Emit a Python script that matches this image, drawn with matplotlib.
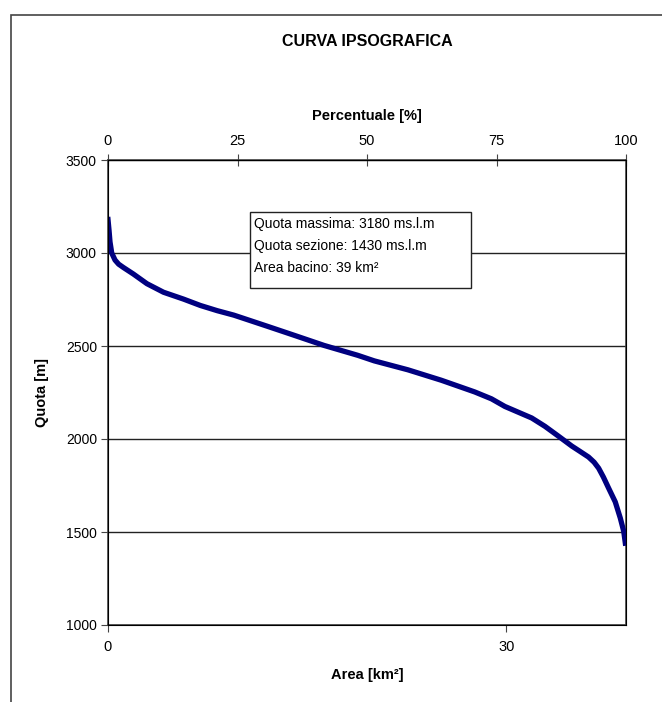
import matplotlib
matplotlib.use('Agg')
import matplotlib.pyplot as plt
from matplotlib.patches import Rectangle

plt.rcParams['font.family'] = ['Liberation Sans', 'DejaVu Sans']

# curve: area [km2] vs quota [m]
area = [0.0, 0.08, 0.15, 0.28, 0.53, 0.8, 1.16, 1.91, 2.93, 4.18, 5.69, 6.95,
        8.22, 9.47, 10.23, 12.0, 14.0, 16.27, 18.8, 20.05, 22.58, 25.09,
        27.61, 28.87, 29.88, 31.9, 32.9, 33.9, 34.92, 35.5, 36.18, 36.6,
        36.94, 37.3, 37.69, 38.19, 38.57, 38.83, 38.95]
quota = [3180, 3120, 3060, 3000, 2962, 2940, 2922, 2887, 2835, 2789, 2752, 2718,
         2690, 2666, 2648, 2606, 2558, 2503, 2450, 2420, 2372, 2316,
         2253, 2216, 2175, 2113, 2068, 2016, 1962, 1935, 1903, 1875,
         1843, 1795, 1736, 1662, 1575, 1503, 1440]

area_tot = 39
y_ticks = [1000, 1500, 2000, 2500, 3000, 3500]
x_ticks = [0, 30]
perc_ticks = [0, 25, 50, 75, 100]
info = ['Quota massima: 3180 ms.l.m',
        'Quota sezione: 1430 ms.l.m',
        'Area bacino: 39 km\u00b2']

fig = plt.figure(figsize=(6.62, 7.02), dpi=100)
ax = fig.add_axes([108/662, 1 - 625/702, 518/662, 465/702])

# outer frame of the chart
fig.patches.append(Rectangle((11/662, -0.1), 1.2, 1 - 15/702 + 0.1,
                             transform=fig.transFigure, fill=False,
                             edgecolor='#444444', lw=1.2, clip_on=False))

ax.plot(area, quota, color='#000080', lw=3.8, solid_joinstyle='round', zorder=3)

ax.set_xlim(0, area_tot)
ax.set_ylim(1000, 3500)
ax.set_xticks(x_ticks)
ax.set_yticks(y_ticks)
ax.grid(axis='y', color='#222222', lw=1)
ax.tick_params(axis='x', direction='out', length=5, labelsize=10.5, pad=6, color='#444444')
ax.tick_params(axis='y', direction='out', length=5, labelsize=10, pad=3, color='#444444')
for s in ax.spines.values():
    s.set_color('#444444')
    s.set_linewidth(1.2)
ax.set_xlabel('Area [km\u00b2]', fontsize=10.5, fontweight='bold', labelpad=10)
ax.set_ylabel('Quota [m]', fontsize=10.5, fontweight='bold', labelpad=12)

ax2 = ax.twiny()
ax2.set_xlim(0, 100)
ax2.set_xticks(perc_ticks)
ax2.tick_params(axis='x', direction='inout', length=9, labelsize=10.5, pad=4, color='#444444')
ax2.set_xlabel('Percentuale [%]', fontsize=10.5, fontweight='bold', labelpad=10)

# info box
ax.add_patch(Rectangle((142/518, (625-288)/465), 221/518, 76/465,
                       transform=ax.transAxes, facecolor='white',
                       edgecolor='#222222', lw=1, zorder=4))
for i, line in enumerate(info):
    ax.text(146/518, (625-224-i*22)/465, line, transform=ax.transAxes,
            fontsize=10, va='center', ha='left', zorder=5)

fig.text(367/662, 1 - 42/702, 'CURVA IPSOGRAFICA', ha='center', va='center',
         fontsize=11.5, fontweight='bold')

fig.savefig('out.png', dpi=100)
